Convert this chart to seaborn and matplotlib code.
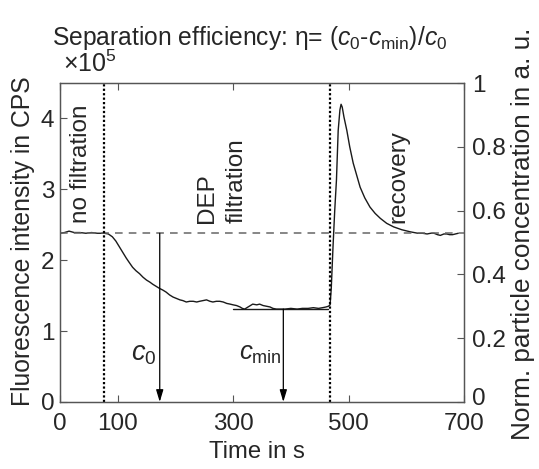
import matplotlib
matplotlib.use("Agg")
import matplotlib.pyplot as plt
import matplotlib.transforms as mtransforms
import seaborn as sns
import pandas as pd

# ---- data ----
time_s = [0, 8, 16, 25, 35, 45, 55, 65, 77, 84, 91, 97, 103, 109, 115, 120, 126, 132,
          138, 144, 150, 156, 161, 167, 173, 178, 184, 190, 196, 202, 208, 213, 219,
          225, 231, 237, 242, 248, 254, 260, 265, 271, 277, 283, 289, 295, 300, 306,
          312, 316, 320, 326, 334, 341, 346, 352, 358, 364, 369, 375, 381, 390, 400,
          411, 420, 430, 439, 448, 455, 461, 465, 468, 470, 473, 476, 479, 482, 485,
          487, 489, 492, 497, 502, 508, 514, 520, 528, 537, 546, 555, 566, 578, 592,
          607, 620, 628, 636, 642, 648, 654, 659, 665, 670, 675, 680, 685, 690]
intensity_e5 = [2.38, 2.39, 2.41, 2.39, 2.39, 2.38, 2.39, 2.38, 2.38, 2.37, 2.33, 2.27,
                2.19, 2.11, 2.03, 1.97, 1.90, 1.85, 1.81, 1.76, 1.72, 1.69, 1.66, 1.63,
                1.60, 1.58, 1.55, 1.51, 1.48, 1.46, 1.44, 1.43, 1.41, 1.42, 1.42, 1.41,
                1.42, 1.43, 1.44, 1.42, 1.41, 1.42, 1.42, 1.41, 1.39, 1.38, 1.37, 1.36,
                1.34, 1.32, 1.31, 1.34, 1.38, 1.37, 1.38, 1.36, 1.35, 1.34, 1.32, 1.31,
                1.31, 1.31, 1.32, 1.31, 1.32, 1.32, 1.33, 1.32, 1.33, 1.34, 1.35, 1.37,
                1.60, 2.18, 2.70, 3.13, 3.83, 4.12, 4.20, 4.16, 4.02, 3.83, 3.60, 3.37,
                3.20, 3.03, 2.88, 2.75, 2.66, 2.59, 2.52, 2.47, 2.43, 2.40, 2.38, 2.38,
                2.37, 2.38, 2.38, 2.36, 2.35, 2.37, 2.37, 2.36, 2.36, 2.37, 2.38]

x_ticks = [0, 100, 300, 500, 700]
y_ticks = [0, 1, 2, 3, 4]
y_tick_labels = ["0", "1", "2", "3", "4"]
y2_ticks = [0, 0.2, 0.4, 0.6, 0.8, 1.0]
y2_tick_labels = ["0", "0.2", "0.4", "0.6", "0.8", "1"]

baseline_level = 2.38        # dashed reference (c0 level)
phase_bounds = [76, 468]     # dotted phase boundaries (s)
c0_time = 173
cmin_time = 387
cmin_level = 1.31
cmin_span = [300, 465]

# ---- style ----
sns.set_theme(style="ticks")
plt.rcParams["font.family"] = ["Liberation Sans", "DejaVu Sans"]
plt.rcParams["mathtext.fontset"] = "custom"
plt.rcParams["mathtext.rm"] = "Liberation Sans"
plt.rcParams["mathtext.it"] = "Liberation Sans:italic"
plt.rcParams["mathtext.bf"] = "Liberation Sans:bold"

FS = 17.5
spine_col = "#555555"

fig = plt.figure(figsize=(5.39, 4.69), dpi=100)
ax = fig.add_axes([0.111, 0.143, 0.750, 0.680])

df = pd.DataFrame({"t": time_s, "I": intensity_e5})
sns.lineplot(data=df, x="t", y="I", ax=ax, color="#1a1a1a", lw=1.0)

ax.axhline(baseline_level, ls=(0, (5, 4)), color="#666666", lw=1.1)
for xb in phase_bounds:
    ax.axvline(xb, ls=(0, (1, 1.0)), color="black", lw=1.6)

# c_min horizontal line
ax.plot(cmin_span, [cmin_level, cmin_level], color="#1a1a1a", lw=1.0)

arrow_kw = dict(arrowstyle="-|>,head_length=0.6,head_width=0.18", color="black",
                lw=0.9, shrinkA=0, shrinkB=0)
ax.annotate("", xy=(c0_time, 0), xytext=(c0_time, baseline_level), arrowprops=arrow_kw)
ax.annotate("", xy=(cmin_time, 0), xytext=(cmin_time, cmin_level), arrowprops=arrow_kw)

ax.text(c0_time - 6, 0.68, r"$c_0$", ha="right", va="center", fontsize=FS + 2)
ax.text(cmin_time - 3, 0.68, r"$c_\mathrm{min}$", ha="right", va="center", fontsize=FS + 1)

ax.text(37, 2.52, "no filtration", rotation=90, ha="center", va="bottom", fontsize=FS)
ax.text(281, 2.52, "DEP\nfiltration", rotation=90, ha="center", va="bottom",
        fontsize=FS, multialignment="left", linespacing=1.45)
ax.text(586, 2.52, "recovery", rotation=90, ha="center", va="bottom", fontsize=FS)

ax.set_xlim(0, 700)
ax.set_ylim(0, 4.5)
ax.set_xticks(x_ticks)
ax.set_xticklabels([str(v) for v in x_ticks])
ax.set_yticks(y_ticks)
ax.set_yticklabels(y_tick_labels)
ax.set_xlabel("")
ax.set_ylabel("")
ax.tick_params(axis="both", direction="in", length=5, width=0.8, color=spine_col,
               labelsize=FS, top=True)
ax.tick_params(axis="x", pad=8)
ax.tick_params(axis="y", pad=4)

ax2 = ax.twinx()
ax2.set_ylim(0, 1)
ax2.set_yticks(y2_ticks)
ax2.set_yticklabels(y2_tick_labels)
ax2.tick_params(axis="y", direction="in", length=5, width=0.8, color=spine_col,
                labelsize=FS, pad=6)
# lift the right-hand "0" a little so it sits above the "700"
zero_lbl = ax2.get_yticklabels()[0]
zero_lbl.set_transform(zero_lbl.get_transform() +
                       mtransforms.ScaledTranslation(0, 4 / 72, fig.dpi_scale_trans))

for a in (ax, ax2):
    for s in a.spines.values():
        s.set_color(spine_col)
        s.set_linewidth(0.9)
        s.set_visible(True)

ax.text(0.007, 1.02, r"$\times10^5$", transform=ax.transAxes, ha="left",
        va="bottom", fontsize=FS + 0.5)

fig.text(0.464, 0.918, r"Separation efficiency: η= ($c_0$-$c_\mathrm{min}$)/$c_0$",
         ha="center", va="center", fontsize=17.7)
fig.text(0.043, 0.485, "Fluorescence intensity in CPS", rotation=90,
         ha="center", va="center", fontsize=17.8)
fig.text(0.971, 0.502, "Norm. particle concentration in a. u.", rotation=90,
         ha="center", va="center", fontsize=18.8)
fig.text(0.477, 0.036, "Time in s", ha="center", va="center", fontsize=17.2)

fig.savefig("out.png", dpi=100)
